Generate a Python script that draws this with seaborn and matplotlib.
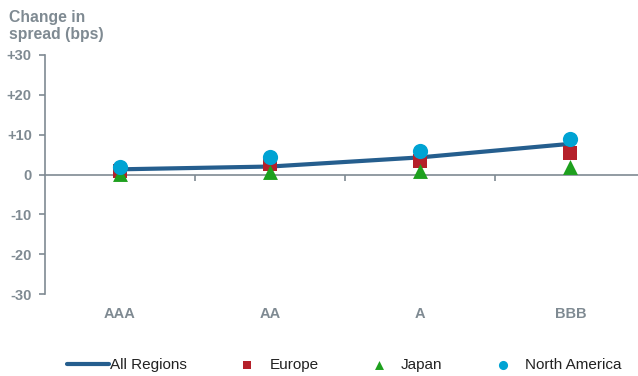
import numpy as np
import pandas as pd
import matplotlib
matplotlib.use("Agg")
import matplotlib.pyplot as plt
import seaborn as sns

# chart data
ratings = ["AAA", "AA", "A", "BBB"]
all_regions = [1.3, 2.0, 4.3, 7.7]
europe = [1.0, 2.7, 3.5, 5.4]
japan = [0.2, 0.6, 1.0, 2.0]
north_america = [1.8, 4.3, 5.9, 9.0]
y_ticks = [30, 20, 10, 0, -10, -20, -30]
y_tick_labels = ["+30", "+20", "+10", "0", "-10", "-20", "-30"]

GREY = "#7F8A92"
LINE_BLUE = "#255E8E"
RED = "#B5202A"
GREEN = "#1EA01E"
CYAN = "#00A3D3"

sns.set_theme(style="white")
plt.rcParams["font.family"] = ["Liberation Sans", "DejaVu Sans"]

df = pd.DataFrame({
    "pos": range(len(ratings)),
    "All Regions": all_regions,
    "Europe": europe,
    "Japan": japan,
    "North America": north_america,
})

fig = plt.figure(figsize=(6.38, 3.76), dpi=100)
ax = fig.add_axes([45 / 638, 1 - 294 / 376, 1 - 45 / 638, (294 - 55) / 376])

sns.lineplot(data=df, x="pos", y="All Regions", ax=ax, color=LINE_BLUE,
             linewidth=3, label="All Regions", zorder=2)
sns.scatterplot(data=df, x="pos", y="Europe", ax=ax, color=RED, marker="s",
                s=90, linewidth=0, label="Europe", zorder=3)
sns.scatterplot(data=df, x="pos", y="Japan", ax=ax, color=GREEN, marker="^",
                s=115, linewidth=0, label="Japan", zorder=4)
sns.scatterplot(data=df, x="pos", y="North America", ax=ax, color=CYAN, marker="o",
                s=120, linewidth=0, label="North America", zorder=5)

ax.set_xlim(-0.5, 3.45)
ax.set_ylim(-30, 30)
ax.set_xlabel("")
ax.set_ylabel("")

# axes styling
for side in ["top", "right"]:
    ax.spines[side].set_visible(False)
ax.spines["bottom"].set_position(("data", 0))
ax.spines["bottom"].set_color(GREY)
ax.spines["left"].set_color(GREY)
ax.spines["bottom"].set_linewidth(1.2)
ax.spines["left"].set_linewidth(1.2)

ax.set_yticks(y_ticks)
ax.set_yticklabels(y_tick_labels, fontweight="bold", color=GREY, fontsize=10.5)
ax.tick_params(axis="y", left=True, length=4, color=GREY, width=1.2, pad=5.5)
ax.set_xticks([0.5, 1.5, 2.5])
ax.set_xticklabels([])
ax.tick_params(axis="x", bottom=True, length=4, color=GREY, width=1.2, direction="out")

for i, r in enumerate(ratings):
    ax.text(i, -34.9, r, ha="center", va="center", fontsize=10.5,
            fontweight="bold", color=GREY, clip_on=False)

fig.text(9 / 638, 1 - 26 / 376, "Change in\nspread (bps)", ha="left", va="center",
         fontsize=11.3, fontweight="bold", color=GREY, linespacing=1.2)

ax.get_legend().remove()
handles, labels = ax.get_legend_handles_labels()
fig.legend(handles, labels, loc="center", bbox_to_anchor=(344.5 / 638, 1 - 365 / 376),
           ncol=4, frameon=False, fontsize=11, handlelength=2.7,
           handletextpad=0.1, columnspacing=2.6, markerscale=0.6,
           labelcolor="#222222")

fig.savefig("out.png", dpi=100)
